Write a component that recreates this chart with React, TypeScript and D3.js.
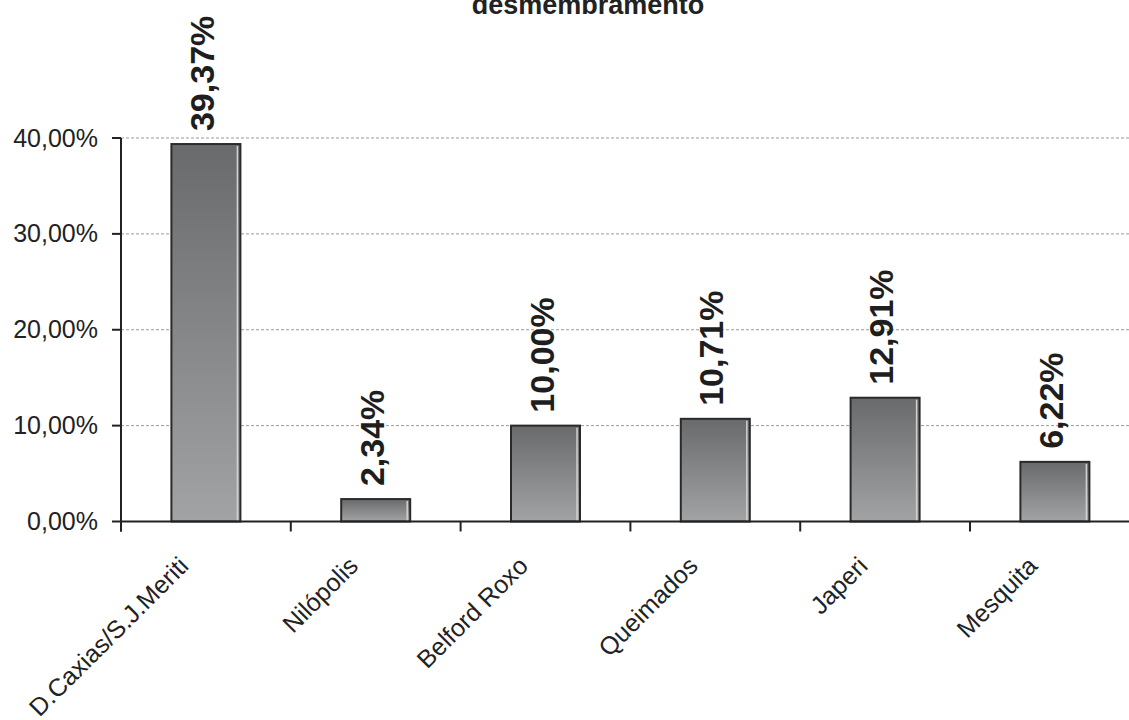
import React from "react";
import * as d3 from "d3";

const categories = ["D.Caxias/S.J.Meriti", "Nilópolis", "Belford Roxo", "Queimados", "Japeri", "Mesquita"];
const values = [39.37, 2.34, 10.0, 10.71, 12.91, 6.22];
const yTicks = [0, 10, 20, 30, 40];
const titleText = "desmembramento";

const W = 1129;
const H = 720;
const left = 121;
const bandStep = 169.8;
const y0 = 521.5;
const y40 = 138;

const fmt = (v: number) => v.toFixed(2).replace(".", ",") + "%";

export default function App() {
  const x = d3
    .scaleBand<string>()
    .domain(categories)
    .range([left, left + bandStep * categories.length])
    .paddingInner(0)
    .paddingOuter(0);
  const y = d3.scaleLinear().domain([0, 40]).range([y0, y40]);
  const barW = 69;
  const font = "'Liberation Sans', Arial, Helvetica, sans-serif";

  return (
    <svg
      width={W}
      height={H}
      style={{ position: "absolute", left: 0, top: 0, background: "#fff" }}
      fontFamily={font}
    >
      <defs>
        <linearGradient id="barGrad" x1="0" y1="0" x2="0" y2="1">
          <stop offset="0%" stopColor="#696a6c" />
          <stop offset="100%" stopColor="#a2a3a5" />
        </linearGradient>
      </defs>
      <rect x={0} y={0} width={W} height={H} fill="#fff" />

      <text x={588} y={14} textAnchor="middle" fontSize={27} fontWeight="bold" fill="#222">
        {titleText}
      </text>

      {/* gridlines */}
      {yTicks.filter((t) => t > 0).map((t) => (
        <line
          key={"g" + t}
          x1={left}
          x2={W}
          y1={y(t)}
          y2={y(t)}
          stroke="#9a9a9a"
          strokeWidth={1}
          strokeDasharray="3,2"
        />
      ))}

      {/* bars */}
      {categories.map((c, i) => {
        const cx = (x(c) as number) + x.bandwidth() / 2;
        const top = y(values[i]);
        return (
          <g key={c}>
            <rect
              x={cx - barW / 2}
              y={top}
              width={barW}
              height={y0 - top}
              fill="url(#barGrad)"
              stroke="#2a2a2a"
              strokeWidth={2}
            />
            <line
              x1={cx + barW / 2 - 3}
              x2={cx + barW / 2 - 3}
              y1={top + 2}
              y2={y0 - 1}
              stroke="#d0d0d0"
              strokeWidth={1.5}
            />
            <text
              transform={`translate(${cx + 8},${top - 13}) rotate(-90)`}
              fontSize={34}
              fontWeight="bold"
              fill="#1e1e1e"
            >
              {fmt(values[i])}
            </text>
          </g>
        );
      })}

      {/* y axis */}
      <line x1={left} x2={left} y1={y40} y2={y0 + 10} stroke="#222" strokeWidth={2} />
      {yTicks.map((t) => (
        <g key={"t" + t}>
          <line x1={left - 9} x2={left} y1={y(t)} y2={y(t)} stroke="#222" strokeWidth={2} />
          <text
            x={98}
            y={y(t) + 8.5}
            textAnchor="end"
            fontSize={25}
            fill="#222"
          >
            {fmt(t)}
          </text>
        </g>
      ))}

      {/* x axis */}
      <line x1={left} x2={W} y1={y0} y2={y0} stroke="#222" strokeWidth={2} />
      {categories.map((c) => (
        <line
          key={"xt" + c}
          x1={x(c) as number}
          x2={x(c) as number}
          y1={y0}
          y2={y0 + 10}
          stroke="#222"
          strokeWidth={2}
        />
      ))}
      {categories.map((c) => {
        const cx = (x(c) as number) + x.bandwidth() / 2;
        return (
          <text
            key={"xl" + c}
            transform={`translate(${cx - 16},${y0 + 46}) rotate(-45)`}
            textAnchor="end"
            fontSize={25}
            fill="#222"
          >
            {c}
          </text>
        );
      })}
    </svg>
  );
}
